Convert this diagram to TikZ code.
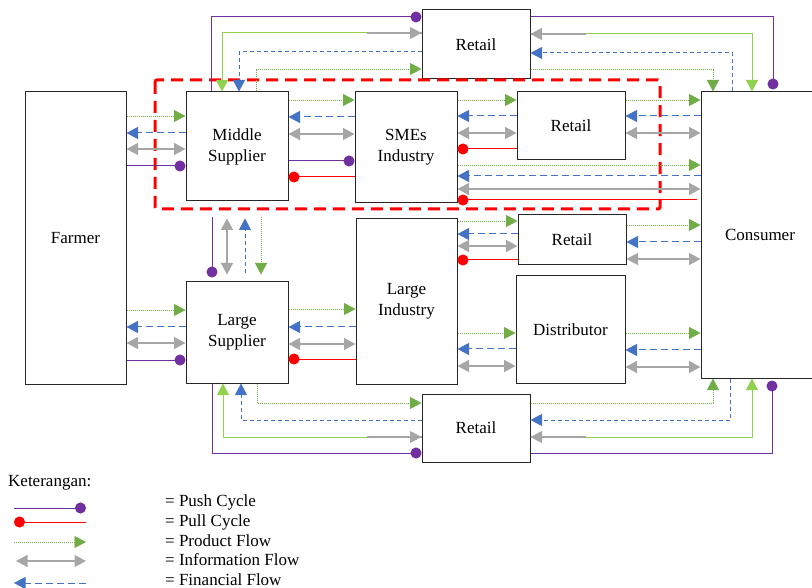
\documentclass[tikz,border=0pt]{standalone}
\usepackage{fontspec}
\setmainfont{Liberation Serif}
\usetikzlibrary{arrows.meta}
\definecolor{cProd}{HTML}{70AD47}
\definecolor{cLime}{HTML}{92D050}
\definecolor{cFin} {HTML}{4472C4}
\definecolor{cInfo}{HTML}{A6A6A6}
\definecolor{cPush}{HTML}{7030A0}
\definecolor{cPull}{HTML}{FF0000}
\newcommand{\figfont}{\fontsize{17}{21}\selectfont}
\tikzset{
  box/.style={draw=black!85,line width=1pt,fill=white,inner sep=2pt,align=center,font=\figfont},
  prod/.style={-{Triangle[length=11.5pt,width=12pt]},cProd,line width=0.8pt,dash pattern=on 1pt off 1pt}, % product flow
  fin/.style={-{Triangle[length=11.5pt,width=12pt]},cFin,line width=1pt,dash pattern=on 7pt off 4pt},    % financial flow
  finR/.style={fin,dash pattern=on 4pt off 3pt},                                                          % routed, finer dashes
  info/.style={{Triangle[length=11.5pt,width=12pt]}-{Triangle[length=11.5pt,width=12pt]},cInfo,line width=1.4pt}, % information flow
  limeinfo/.style={{Triangle[length=11.5pt,width=12pt,color=cInfo]}-{Triangle[length=11.5pt,width=12pt]},cLime,line width=1pt},
  grayseg/.style={cInfo,line width=1.4pt},
  push/.style={-{Circle[length=11pt]},cPush,line width=1pt}, % push cycle
  pull/.style={-{Circle[length=11pt]},cPull,line width=1pt}, % pull cycle
  zone/.style={draw=cPull,line width=3pt,dash pattern=on 12pt off 7pt},
}
\begin{document}
\begin{tikzpicture}[x=1pt,y=-1pt]
  \useasboundingbox (0,0) rectangle (812,588);
  % ---- actors (pixel grid of the figure, y downwards) ----
  \node[box,minimum width=101,minimum height=292] (farm) at (75.5,238)  {Farmer};
  \node[box,minimum width=102,minimum height=109] (msup) at (237,146.5) {Middle\\Supplier};
  \node[box,minimum width=102,minimum height=101] (lsup) at (237,332.5) {Large\\Supplier};
  \node[box,minimum width=102,minimum height=111] (sme)  at (406,147.5) {SMEs\\Industry};
  \node[box,minimum width=101,minimum height=165] (lind) at (406.5,301.5){Large\\Industry};
  \node[box,minimum width=108,minimum height=69]  (retT) at (476,44.5)  {Retail};
  \node[box,minimum width=108,minimum height=68]  (retR) at (571,126)   {Retail};
  \node[box,minimum width=108,minimum height=50]  (retM) at (572,240)   {Retail};
  \node[box,minimum width=109,minimum height=107] (dist) at (570.5,329.5){Distributor};
  \node[box,minimum width=108,minimum height=68]  (retB) at (476,428)   {Retail};
  \node[box,minimum width=118,minimum height=286] (cons) at (760,235)   {Consumer};

  % ---- SME cluster ----
  \draw[zone,rounded corners=2pt] (155,80) rectangle (660,209);

  % ---- product / financial / information between two actors ----
  \newcommand{\trio}[5]{% #1 left node #2 right node #3 product y #4 financial y #5 information y
    \draw[prod] (#1.east |- 0,#3) -- (#2.west |- 0,#3);
    \draw[fin]  (#2.west |- 0,#4) -- (#1.east |- 0,#4);
    \draw[info] (#1.east |- 0,#5) -- (#2.west |- 0,#5);}
  \trio{farm}{msup}{116}{133}{149}
  \trio{farm}{lsup}{310}{327}{343}
  \trio{msup}{sme}{100}{117}{134}
  \trio{sme}{retR}{100}{116}{133}
  \trio{retR}{cons}{100}{116}{133}
  \trio{sme}{cons}{165}{176}{189}
  \trio{lsup}{lind}{309}{327}{344}
  \trio{lind}{retM}{221}{234}{246}
  \trio{lind}{dist}{333}{349}{366}
  \trio{retM}{cons}{225}{242}{259}
  \trio{dist}{cons}{333}{350}{367}

  % ---- push / pull ----
  \draw[push] (farm.east |- 0,166) -- (msup.west |- 0,166);
  \draw[push] (farm.east |- 0,360) -- (lsup.west |- 0,360);
  \draw[push] (msup.east |- 0,161) -- (sme.west |- 0,161);
  \draw[pull] (sme.west |- 0,177)  -- (msup.east |- 0,177);
  \draw[pull] (retR.west |- 0,149) -- (sme.east |- 0,149);
  \draw[pull,shorten <=4pt] (cons.west |- 0,200) -- (sme.east |- 0,200);
  \draw[pull] (lind.west |- 0,359) -- (lsup.east |- 0,359);
  \draw[pull] (retM.west |- 0,260) -- (lind.east |- 0,260);

  % ---- middle supplier <-> large supplier ----
  \draw[push,shorten <=16pt,shorten >=4pt] (msup.south -| 212,0) -- (lsup.north -| 212,0);
  \draw[info,shorten <=17pt,shorten >=7pt] (msup.south -| 227,0) -- (lsup.north -| 227,0);
  \draw[finR,shorten <=8pt,shorten >=17pt] (lsup.north -| 245,0) -- (msup.south -| 245,0);
  \draw[prod,shorten <=16pt,shorten >=7pt] (msup.south -| 261,0) -- (lsup.north -| 261,0);

  % ---- routes over the top retail ----
  \draw[push] (msup.north -| 211,0) |- (retT.west |- 0,17);
  \draw[limeinfo] (retT.west |- 0,33) -| (msup.north -| 222,0);
  \draw[grayseg]  (retT.west |- 0,33) -- ++(-55,0);
  \draw[finR] (retT.west |- 0,52) -| (msup.north -| 239,0);
  \draw[prod] (msup.north -| 256,0) |- (retT.west |- 0,69);
  \draw[push,shorten >=2pt] (retT.east |- 0,17) -| (cons.north -| 773,0);
  \draw[limeinfo] (retT.east |- 0,34) -| (cons.north -| 752,0);
  \draw[grayseg]  (retT.east |- 0,34) -- ++(55,0);
  \draw[finR] (cons.north -| 732,0) |- (retT.east |- 0,53);
  \draw[prod] (retT.east |- 0,69) -| (cons.north -| 713,0);

  % ---- routes under the bottom retail ----
  \draw[prod] (lsup.south -| 257,0) |- (retB.west |- 0,403);
  \draw[finR] (retB.west |- 0,420) -| (lsup.south -| 241,0);
  \draw[limeinfo] (retB.west |- 0,437) -| (lsup.south -| 223,0);
  \draw[grayseg]  (retB.west |- 0,437) -- ++(-55,0);
  \draw[push] (lsup.south -| 212,0) |- (retB.west |- 0,453);
  \draw[prod] (retB.east |- 0,403) -| (cons.south -| 713,0);
  \draw[finR] (cons.south -| 730,0) |- (retB.east |- 0,420);
  \draw[limeinfo] (retB.east |- 0,437) -| (cons.south -| 752,0);
  \draw[grayseg]  (retB.east |- 0,437) -- ++(55,0);
  \draw[push,shorten >=2pt] (retB.east |- 0,453) -| (cons.south -| 772,0);

  % ---- legend ----
  \node[anchor=west,inner sep=0pt,font=\figfont] (key) at (8,483) {Keterangan:};
  \foreach \i/\ly/\ty/\sty/\xa/\xb/\txt in {1/508/502/push/14/86/Push Cycle,
      2/522/522/pull/86/14/Pull Cycle, 3/542/541/prod/14/86/Product Flow,
      4/561/560/info/16/86/Information Flow, 5/583/580/fin/86/14/Financial Flow}{
    \coordinate (ka\i) at (\xa,\ly);
    \coordinate (kb\i) at (\xb,\ly);
    \draw[\sty] (ka\i) -- (kb\i);
    \node[anchor=west,inner sep=0pt,font=\figfont] (kt\i) at (165,\ty) {= \txt};
  }
\end{tikzpicture}
\end{document}
